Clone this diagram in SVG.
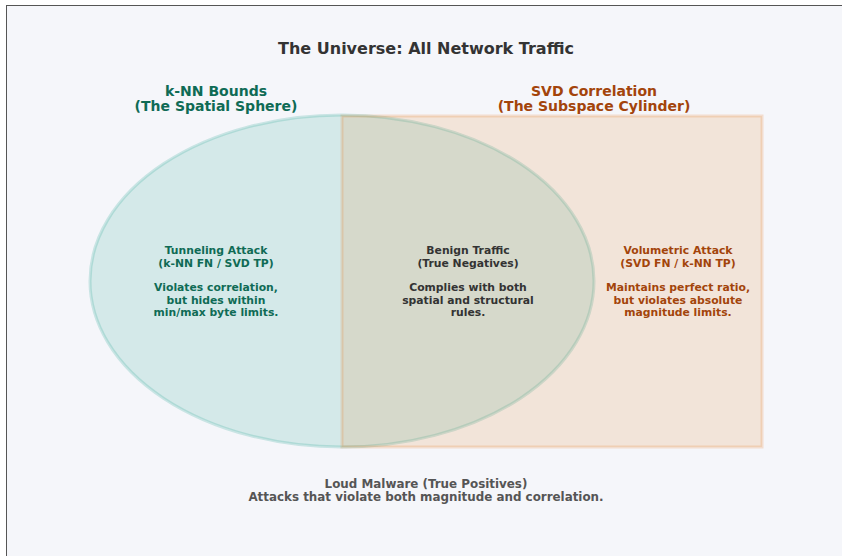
<svg xmlns="http://www.w3.org/2000/svg" width="842" height="556" viewBox="0 0 842 556">
<style>
text{font-family:"DejaVu Sans",sans-serif;font-weight:bold;text-anchor:middle}
.title{font-size:16px;fill:#333}
.hdr{font-size:14px}
.t{font-size:10.8px}
.teal{fill:#0f6b55}
.org{fill:#a3440b}
.dark{fill:#333}
.grey{fill:#555;font-size:11.9px}
</style>
<rect x="0" y="0" width="842" height="556" fill="#ffffff"/>
<rect x="6.5" y="5.5" width="850" height="560" fill="#f5f6fa" stroke="#555" stroke-width="1"/>
<text class="title" x="426" y="54">The Universe: All Network Traffic</text>
<g id="knn">
<ellipse cx="342" cy="281" rx="252" ry="166" fill="rgb(26,160,140)" fill-opacity="0.15" stroke="rgb(26,160,140)" stroke-opacity="0.2" stroke-width="3"/>
<text class="hdr teal" x="216" y="96">k-NN Bounds</text>
<text class="hdr teal" x="216" y="111">(The Spatial Sphere)</text>
</g>
<g id="svd">
<rect x="342" y="116" width="420" height="331" fill="rgb(230,126,34)" fill-opacity="0.15" stroke="rgb(230,126,34)" stroke-opacity="0.2" stroke-width="3"/>
<text class="hdr org" x="594" y="96">SVD Correlation</text>
<text class="hdr org" x="594" y="111">(The Subspace Cylinder)</text>
</g>
<g id="tunneling">
<text class="t teal" x="216" y="254">Tunneling Attack</text>
<text class="t teal" x="216" y="266.5">(k-NN FN / SVD TP)</text>
<text class="t teal" x="216" y="291">Violates correlation,</text>
<text class="t teal" x="216" y="303.5">but hides within</text>
<text class="t teal" x="216" y="316">min/max byte limits.</text>
</g>
<g id="benign">
<text class="t dark" x="468" y="254">Benign Traffic</text>
<text class="t dark" x="468" y="266.5">(True Negatives)</text>
<text class="t dark" x="468" y="291">Complies with both</text>
<text class="t dark" x="468" y="303.5">spatial and structural</text>
<text class="t dark" x="468" y="316">rules.</text>
</g>
<g id="volumetric">
<text class="t org" x="678" y="254">Volumetric Attack</text>
<text class="t org" x="678" y="266.5">(SVD FN / k-NN TP)</text>
<text class="t org" x="678" y="291">Maintains perfect ratio,</text>
<text class="t org" x="678" y="303.5">but violates absolute</text>
<text class="t org" x="678" y="316">magnitude limits.</text>
</g>
<g id="loud">
<text class="grey" x="426" y="488">Loud Malware (True Positives)</text>
<text class="grey" x="426" y="501">Attacks that violate both magnitude and correlation.</text>
</g>
<g id="connectors"></g>
</svg>
